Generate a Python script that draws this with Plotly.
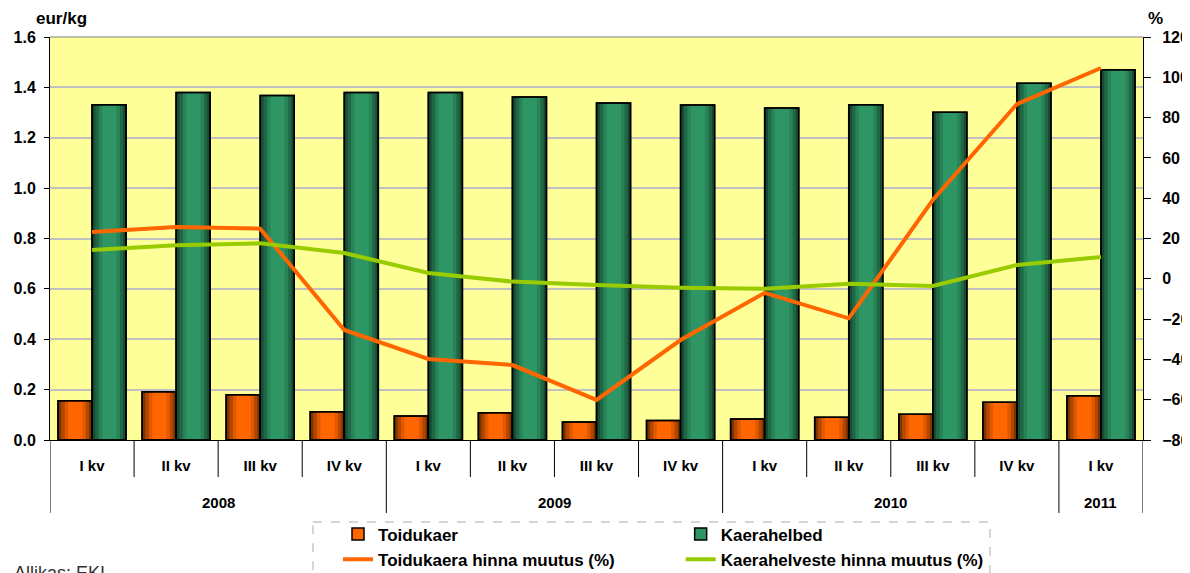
import plotly.graph_objects as go

# Andmed
aastad = ["2008"] * 4 + ["2009"] * 4 + ["2010"] * 4 + ["2011"]
kvartalid = ["I kv", "II kv", "III kv", "IV kv"] * 3 + ["I kv"]

toidukaer = [0.156, 0.192, 0.180, 0.112, 0.095, 0.108, 0.071, 0.077, 0.083, 0.090, 0.102, 0.150, 0.176]
kaerahelbed = [1.331, 1.380, 1.368, 1.380, 1.380, 1.362, 1.338, 1.330, 1.318, 1.331, 1.301, 1.416, 1.470]
toidukaer_muutus = [23.2, 25.7, 24.9, -25.4, -39.8, -42.8, -60.1, -30.4, -7.0, -19.6, 39.1, 86.7, 104.6]
kaerahelbed_muutus = [14.3, 16.6, 17.6, 12.8, 2.9, -1.4, -3.1, -4.4, -4.9, -2.4, -3.6, 6.8, 10.8]

FONT = "Liberation Sans, Arial, sans-serif"
kohad = list(range(len(kvartalid)))
W = 0.405  # ühe tulba laius

# varjutus tulpadel (algus, laius, tumedus) tulba laiuse osades
varjud = [(0.0, 0.10, 0.50), (0.10, 0.10, 0.30), (0.20, 0.10, 0.12),
          (0.72, 0.10, 0.12), (0.82, 0.09, 0.30), (0.91, 0.09, 0.50)]

fig = go.Figure()
for nimi, y, varv, nihe, leg in [("Toidukaer", toidukaer, "#FF6600", -W, "legend"),
                                  ("Kaerahelbed", kaerahelbed, "#2E9664", 0.0, "legend2")]:
    fig.add_trace(go.Bar(name=nimi, x=kohad, y=y, legend=leg, offset=nihe, width=W,
                         marker=dict(color=varv, line=dict(color="#000000", width=1.5))))
    for algus, laius, tume in varjud:
        fig.add_trace(go.Bar(x=kohad, y=y, offset=nihe + algus * W, width=laius * W,
                             showlegend=False, hoverinfo="skip",
                             marker=dict(color="rgba(0,0,0,%.2f)" % tume, line=dict(width=0))))
    fig.add_trace(go.Bar(x=kohad, y=y, offset=nihe, width=W, showlegend=False, hoverinfo="skip",
                         marker=dict(color="rgba(0,0,0,0)", line=dict(color="#000000", width=1.5))))

fig.add_trace(go.Scatter(name="Toidukaera hinna muutus (%)", x=kohad, y=toidukaer_muutus, yaxis="y2",
                         legend="legend", mode="lines", line=dict(color="#FF6600", width=4)))
fig.add_trace(go.Scatter(name="Kaerahelveste hinna muutus (%)", x=kohad, y=kaerahelbed_muutus, yaxis="y2",
                         legend="legend2", mode="lines", line=dict(color="#99CC00", width=4)))

n = len(kvartalid)
shapes = []
annotations = []
# eraldusjooned: kvartalid lühemad, aastad pikemad
for i in range(n + 1):
    uus_aasta = i == 0 or i == n or aastad[i] != aastad[i - 1]
    shapes.append(dict(type="line", xref="x", yref="paper", x0=i - 0.5, x1=i - 0.5, y0=0,
                       y1=-0.181 if uus_aasta else -0.092, line=dict(color="#000000", width=1)))
# aastate sildid
for a in sorted(set(aastad)):
    idx = [k for k, v in enumerate(aastad) if v == a]
    annotations.append(dict(text=a, xref="x", yref="paper", x=sum(idx) / len(idx), y=-0.154,
                            yanchor="middle", showarrow=False, font=dict(size=15)))
# legendi raam
shapes.append(dict(type="rect", xref="paper", yref="paper", x0=0.2406, x1=0.86, y0=-0.2035, y1=-0.37,
                   line=dict(color="#C8C8C8", width=1.5, dash="dash")))
# ülemine raam
shapes.append(dict(type="line", xref="paper", yref="paper", x0=0, x1=1, y0=1, y1=1,
                   line=dict(color="#808080", width=1)))

annotations += [
    dict(text="eur/kg", xref="paper", yref="paper", x=-0.015, y=1.017, xanchor="left",
         yanchor="bottom", showarrow=False, font=dict(size=17)),
    dict(text="%", xref="paper", yref="paper", x=1.011, y=1.017, xanchor="center",
         yanchor="bottom", showarrow=False, font=dict(size=17)),
    dict(text="Allikas: EKI", xref="paper", yref="paper", x=-0.035, y=-0.30, xanchor="left",
         yanchor="top", showarrow=False, font=dict(size=18, weight="normal", color="#333333")),
]

leg = dict(orientation="v", y=-0.19, xanchor="left", yanchor="top", traceorder="normal",
           font=dict(size=17), bgcolor="rgba(0,0,0,0)", itemwidth=30, tracegroupgap=0)

# lehel on 8px serv, seega joonis on sama palju väiksem
fig.update_layout(
    width=1182, height=565,
    margin=dict(l=42, r=47, t=29, b=133, autoexpand=False),
    paper_bgcolor="white", plot_bgcolor="#FFFF99",
    font=dict(family=FONT, size=15, color="#000000", weight="bold"),
    barmode="overlay",
    showlegend=True,
    legend=dict(leg, x=0.2635),
    legend2=dict(leg, x=0.577),
    xaxis=dict(range=[-0.5, n - 0.5], tickvals=kohad, ticktext=kvartalid, ticks="",
               ticklabelstandoff=12, tickfont=dict(size=15), showline=True,
               linecolor="#000000", linewidth=1, showgrid=False, zeroline=False, automargin=False),
    yaxis=dict(range=[0, 1.6], dtick=0.2, tickformat=".1f", ticks="outside", ticklen=5,
               tickcolor="#000000", showline=True, linecolor="#000000", linewidth=1,
               gridcolor="#C0C0C0", gridwidth=1.5, tickfont=dict(size=16), zeroline=False,
               ticklabelstandoff=5, automargin=False),
    yaxis2=dict(range=[-80, 120], dtick=20, overlaying="y", side="right", ticks="outside",
                ticklen=7, tickcolor="#000000", showline=True, linecolor="#000000", linewidth=1,
                showgrid=False, tickfont=dict(size=16), zeroline=False, ticklabelstandoff=8,
                automargin=False),
    shapes=shapes,
    annotations=annotations,
)

fig.write_html("out.html")
